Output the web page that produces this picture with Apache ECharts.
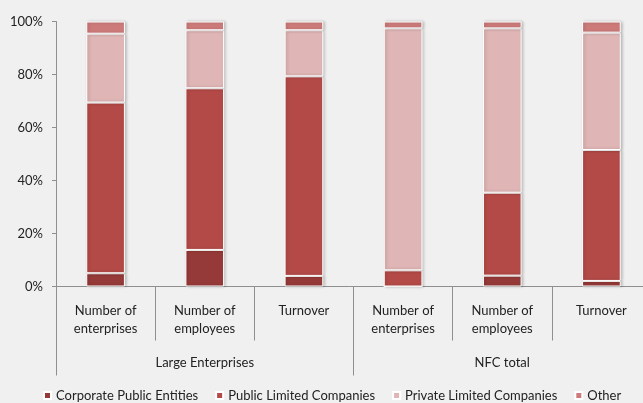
<!DOCTYPE html>
<html>
<head>
<meta charset="utf-8">
<script src="https://cdn.jsdelivr.net/npm/echarts@6/dist/echarts.min.js"></script>
<style>
  html, body { margin: 0; padding: 0; background: #f0f0f0; }
  #chart { width: 643px; height: 403px; }
</style>
</head>
<body>
<div id="chart"></div>
<script>
// Category labels (inner level) and group labels (outer level)
var categories = [
  'Number of\nenterprises', 'Number of\nemployees', 'Turnover',
  'Number of\nenterprises', 'Number of\nemployees', 'Turnover'
];
var groups = ['Large Enterprises', 'NFC total'];

// Share of each legal form, in percent
var corporatePublicEntities = [5.0, 13.8, 4.0, 0.0, 4.1, 2.1];
var publicLimitedCompanies  = [64.4, 61.0, 75.3, 6.1, 31.3, 49.4];
var privateLimitedCompanies = [26.0, 21.9, 17.4, 91.3, 62.0, 44.3];
var other                   = [4.6, 3.3, 3.3, 2.6, 2.6, 4.2];

var yTicks = { min: 0, max: 100, interval: 20 };

var FONT = 'Lato';
var AXIS_GREY = '#8f8f8f';

var chart = echarts.init(document.getElementById('chart'), null, { renderer: 'canvas' });

function barSeries(name, data, color) {
  return {
    name: name,
    type: 'bar',
    stack: 'total',
    data: data,
    barWidth: '39%',
    xAxisIndex: 0,
    itemStyle: {
      color: color,
      borderColor: '#ffffff',
      borderWidth: 1,
      shadowColor: 'rgba(0,0,0,0.22)',
      shadowBlur: 3,
      shadowOffsetX: 1.5,
      shadowOffsetY: 0
    },
    emphasis: { disabled: true }
  };
}

chart.setOption({
  backgroundColor: '#f0f0f0',
  animation: false,
  textStyle: { fontFamily: FONT },
  // the plot runs a little past the right edge of the canvas
  grid: {
    left: 56, width: 595, top: 21.5, bottom: 116.5,
    containLabel: false,
    outerBoundsMode: 'none'
  },
  legend: {
    bottom: 1,
    left: 43,
    padding: 0,
    icon: 'rect',
    itemWidth: 7,
    itemHeight: 7,
    itemGap: 17,
    textStyle: { fontFamily: FONT, fontSize: 13, color: '#222222' },
    data: ['Corporate Public Entities', 'Public Limited Companies', 'Private Limited Companies', 'Other']
  },
  xAxis: [
    {
      type: 'category',
      data: categories,
      position: 'bottom',
      axisLine: { show: true, lineStyle: { color: AXIS_GREY, width: 1 } },
      axisTick: { show: true, alignWithLabel: false, length: 54, lineStyle: { color: AXIS_GREY } },
      axisLabel: {
        interval: 0,
        margin: 15,
        fontFamily: FONT,
        fontSize: 13,
        color: '#222222',
        lineHeight: 18
      }
    },
    {
      type: 'category',
      data: groups,
      position: 'bottom',
      axisLine: { show: false },
      axisTick: { show: true, alignWithLabel: false, length: 89, lineStyle: { color: AXIS_GREY } },
      axisLabel: {
        interval: 0,
        margin: 70,
        fontFamily: FONT,
        fontSize: 13,
        color: '#222222'
      }
    }
  ],
  yAxis: {
    type: 'value',
    min: yTicks.min,
    max: yTicks.max,
    interval: yTicks.interval,
    axisLine: { show: true, lineStyle: { color: AXIS_GREY } },
    axisTick: { show: true, length: 4, lineStyle: { color: AXIS_GREY } },
    splitLine: { show: false },
    axisLabel: {
      formatter: '{value}%',
      margin: 13,
      fontFamily: FONT,
      fontSize: 13,
      color: '#222222'
    }
  },
  series: [
    barSeries('Corporate Public Entities', corporatePublicEntities, '#953a38'),
    barSeries('Public Limited Companies', publicLimitedCompanies, '#b34a47'),
    barSeries('Private Limited Companies', privateLimitedCompanies, '#dfb5b5'),
    barSeries('Other', other, '#cc7b7a')
  ]
});
</script>
</body>
</html>
